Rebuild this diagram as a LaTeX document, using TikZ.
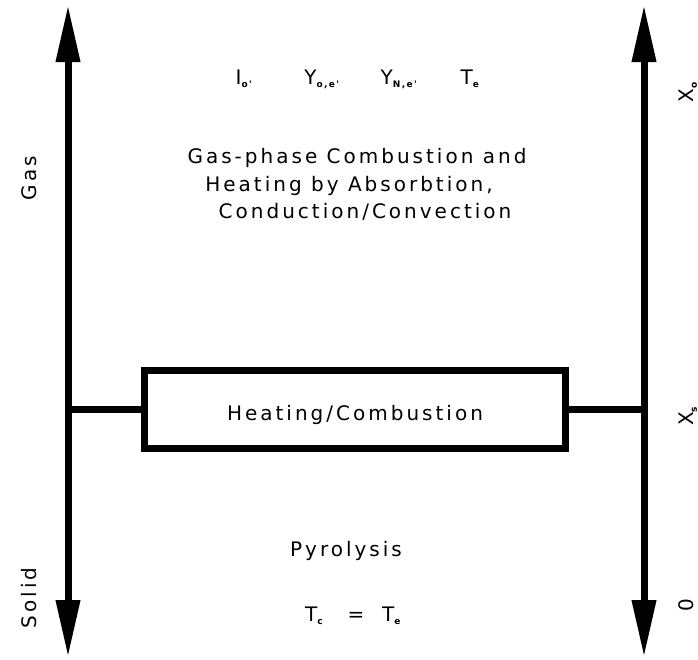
\documentclass[tikz,border=0pt]{standalone}
\usepackage{fontspec}
\usetikzlibrary{arrows.meta}
\newfontfamily\hfont{DejaVu Sans}[LetterSpace=15]
\newcommand{\sbx}[1]{\textsubscript{\bfseries\fontsize{9}{9}\selectfont #1}}
\begin{document}
\begin{tikzpicture}[x=1pt,y=-1pt,
  axis/.style={line width=7pt,{Triangle[length=57pt,width=23pt]}-{Triangle[length=57pt,width=23pt]}},
  thick line/.style={line width=7pt},
  lbl/.style={font=\hfont\fontsize{20}{24}\selectfont,inner sep=0pt},
  side/.style={lbl,rotate=90}]
\useasboundingbox (0,0) rectangle (698,659);
% axes
\coordinate (lt) at (68,5);
\coordinate (lb) at (68,657);
\coordinate (rt) at (644,5);
\coordinate (rb) at (644,657);
\draw[axis] (lt) -- (lb);
\draw[axis] (rt) -- (rb);
% box
\node[draw,line width=7pt,minimum width=421pt,minimum height=78pt,inner sep=0pt] (box) at (354.5,409) {};
\coordinate (lj) at (68,409);
\coordinate (rj) at (644,409);
\draw[thick line] (lj) -- (box.west);
\draw[thick line] (box.east) -- (rj);
\node[lbl,anchor=base] (heat) at (355,420) {Heating/Combustion};
% top labels
\node[lbl,anchor=base] (io) at (244,84) {I\sbx{o'}};
\node[lbl,anchor=base] (yo) at (322,84) {Y\sbx{o,e'}};
\node[lbl,anchor=base] (yn) at (399,84) {Y\sbx{N,e'}};
\node[lbl,anchor=base] (te) at (470,84) {T\sbx{e}};
% gas-phase text
\node[lbl,anchor=base] (g1) at (357,163) {Gas-phase Combustion and};
\node[lbl,anchor=base] (g2) at (349,191) {Heating by Absorbtion,};
\node[lbl,anchor=base] (g3) at (365,218) {Conduction/Convection};
% solid text
\node[lbl,anchor=base] (pyr) at (346,556) {Pyrolysis};
\node[lbl,anchor=base west] (tc) at (305,621) {T\sbx{c}};
\node[lbl,anchor=base] (eq) at (356,621) {=};
\node[lbl,anchor=base west] (te2) at (382,621) {T\sbx{e}};
% side labels
\node[side] (gas) at (29,178) {Gas};
\node[side] (solid) at (29,598) {Solid};
\node[side] (xo) at (688,92) {X\sbx{o}};
\node[side] (xs) at (688,416) {X\sbx{s}};
\node[side] (zero) at (686,605) {0};
\end{tikzpicture}
\end{document}
